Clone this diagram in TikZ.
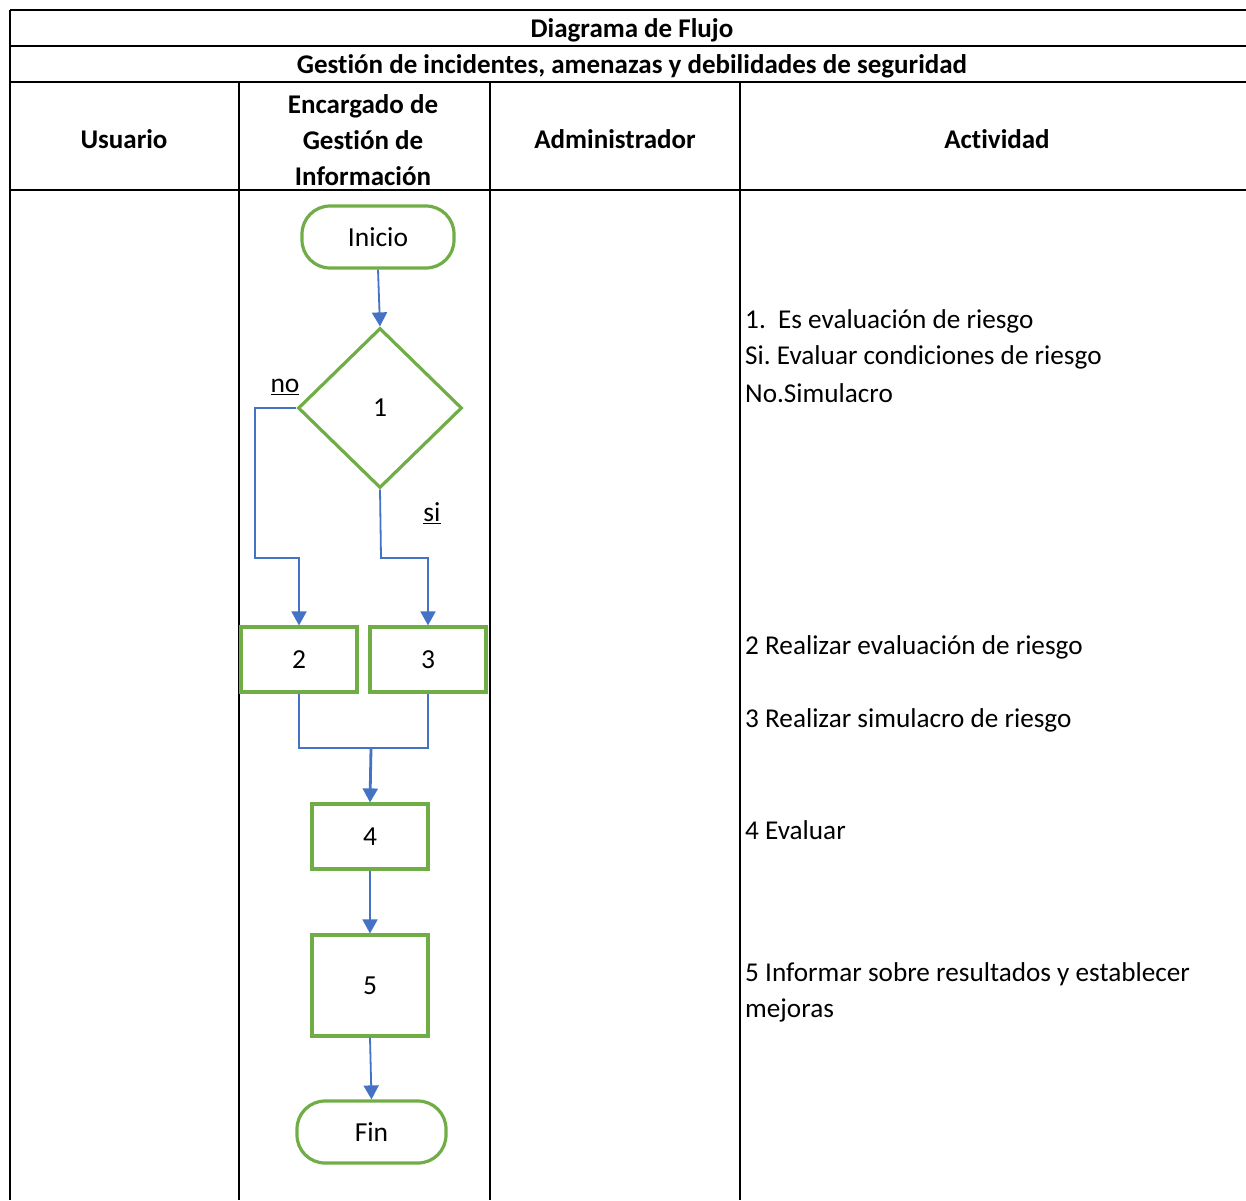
\documentclass[tikz,border=0pt]{standalone}
\usepackage{fontspec}
\setmainfont{Carlito}[Ligatures={NoCommon}]
\usetikzlibrary{arrows.meta,shapes.geometric}
\definecolor{flowgreen}{HTML}{70AD47}
\definecolor{flowblue}{HTML}{4472C4}
\frenchspacing
\begin{document}
\begin{tikzpicture}[x=1pt,y=-1pt,
  grid/.style={line width=2.2pt,black},
  head/.style={font=\fontsize{27}{36}\selectfont\bfseries,align=center,inner sep=0},
  act/.style={font=\fontsize{27.2}{36}\selectfont,anchor=west,inner sep=0,align=left},
  term/.style={draw=flowgreen,line width=3.2pt,rounded corners=28pt,font=\fontsize{27.5}{30}\selectfont,inner sep=0},
  procbox/.style={draw=flowgreen,line width=3.2pt,font=\fontsize{27.5}{30}\selectfont,inner sep=0,minimum width=116pt},
  decision/.style={draw=flowgreen,line width=3.2pt,diamond,font=\fontsize{27.5}{30}\selectfont,inner sep=0,minimum width=164pt,minimum height=160pt},
  flow/.style={draw=flowblue,line width=1.8pt},
  arr/.style={flow,-{Triangle[width=15pt,length=14pt]}},
  lbl/.style={font=\fontsize{27.5}{30}\selectfont,inner sep=0}]
\useasboundingbox (0,0) rectangle (1246,1200);
\fill[white] (0,0) rectangle (1246,1200);

% table frame
\draw[grid] (10,10) -- (1246,10);
\draw[grid] (10,46) -- (1246,46);
\draw[grid] (10,82) -- (1246,82);
\draw[grid] (10,190) -- (1246,190);
\draw[grid] (10,10) -- (10,1200);
\draw[grid] (239,82) -- (239,1200);
\draw[grid] (490,82) -- (490,1200);
\draw[grid] (740,82) -- (740,1200);

% headings
\node[head] (title) at (632,30) {Diagrama de Flujo};
\node[head] (subtitle) at (632,66) {Gestión de incidentes, amenazas y debilidades de seguridad};
\node[head] (hUser) at (124,139) {Usuario};
\node[head] (hInfo) at (363,140) {Encargado de\\Gestión de\\Información};
\node[head] (hAdmin) at (615,139) {Administrador};
\node[head] (hAct) at (997,139) {Actividad};

% flowchart
\node[term,minimum width=152pt,minimum height=62pt] (start) at (378,237) {Inicio};
\node[decision] (d1) at (380,408) {1};
\node[procbox,minimum height=65pt] (b2) at (299,659.5) {2};
\node[procbox,minimum height=65pt] (b3) at (428,659.5) {3};
\node[procbox,minimum height=65pt] (b4) at (370,836.5) {4};
\node[procbox,minimum height=101pt] (b5) at (370,985.5) {5};
\node[term,minimum width=149pt,minimum height=62pt] (end) at (371.5,1132) {Fin};

\node[lbl] (no) at (285,387) {\underline{no}};
\node[lbl] (si) at (432,513) {\underline{si}};

\coordinate (merge) at (371,748);

\draw[arr] (start.south) -- (d1.north);
\draw[arr] (d1.west) -- (255,408) -- (255,558) -| (b2.north);
\draw[arr] (d1.south) -- (381,558) -| (b3.north);
\draw[flow] (b2.south) |- (merge) -| (b3.south);
\draw[arr,line width=2.8pt] (merge) -- (b4.north);
\draw[arr] (b4.south) -- (b5.north);
\draw[arr] (b5.south) -- (end.north);

% activity descriptions
\node[act] (a1) at (745,321) {1.\ \ Es evaluación de riesgo};
\node[act] (a1s) at (745,357) {Si. Evaluar condiciones de riesgo};
\node[act] (a1n) at (745,393) {No.Simulacro};
\node[act] (a2) at (745,647) {2 Realizar evaluación de riesgo};
\node[act] (a3) at (745,720) {3 Realizar simulacro de riesgo};
\node[act] (a4) at (745,830) {4 Evaluar};
\node[act] (a5) at (745,974) {5 Informar sobre resultados y establecer};
\node[act] (a5b) at (745,1010) {mejoras};
\end{tikzpicture}
\end{document}
